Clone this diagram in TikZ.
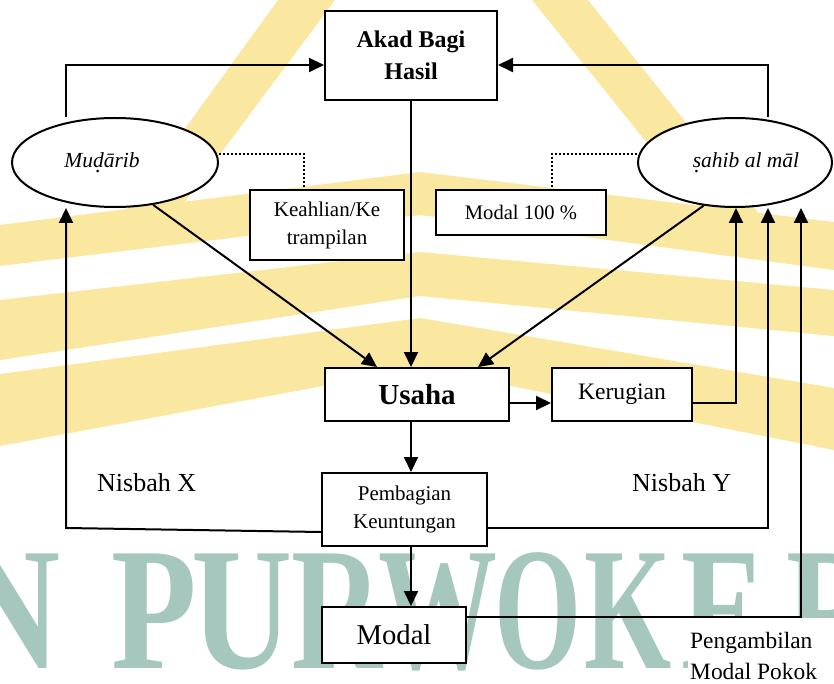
\documentclass[tikz,border=0pt]{standalone}
\usepackage{fontspec}
\setmainfont{Liberation Serif}
\usetikzlibrary{arrows.meta,shapes.geometric}
\definecolor{wmY}{RGB}{250,232,160}
\definecolor{wmT}{RGB}{166,199,190}
\newcommand\dotunder[1]{{\oalign{#1\crcr\hidewidth.\hidewidth}}}
\newcommand\myfs[2]{\fontsize{#1}{#2}\selectfont}
\newcommand\wmchar[2]{\scalebox{#1}[1]{#2}}
\begin{document}
\begin{tikzpicture}[x=1pt,y=-1pt,
  box/.style={draw, line width=2pt, fill=white, inner sep=0pt, align=center},
  oval/.style={ellipse, draw, line width=2pt, fill=white, inner sep=0pt, minimum height=89pt},
  arr/.style={line width=2pt, -{Triangle[length=15pt,width=14pt]}},
  dotline/.style={line width=2pt, dotted},
  lbl/.style={inner sep=0pt, anchor=base west},
  wm/.style={inner sep=0pt, anchor=base, text=wmT, font=\bfseries\myfs{175}{175}},
  band/.style={fill=wmY}]
% canvas
\useasboundingbox (0,0) rectangle (834,684);
\fill[white] (0,0) rectangle (834,684);
% watermark
\begin{scope}
\clip (0,0) rectangle (834,684);
\fill[band] (278,0) -- (335,0) -- (160,235) -- (108,235) -- cycle;
\fill[band] (532,0) -- (588,0) -- (760,215) -- (705,215) -- cycle;
\fill[band] (0,225) -- (420,172) -- (834,222) -- (834,270) -- (420,215) -- (0,266) -- cycle;
\fill[band] (0,300) -- (420,252) -- (834,290) -- (834,336) -- (420,296) -- (0,360) -- cycle;
\fill[band] (0,374) -- (420,318) -- (834,388) -- (834,450) -- (420,368) -- (0,446) -- cycle;
\node[wm] (w1) at (10,668) {\wmchar{0.8}{N}};
\node[wm] (w2) at (154,668) {\wmchar{0.8}{P}};
\node[wm] (w3) at (242,668) {\wmchar{0.8}{U}};
\node[wm] (w4) at (337,668) {\wmchar{0.72}{R}};
\node[wm] (w5) at (438,668) {\wmchar{0.68}{W}};
\node[wm] (w6) at (538,668) {\wmchar{0.64}{O}};
\node[wm] (w7) at (628,668) {\wmchar{0.64}{K}};
\node[wm] (w8) at (724,668) {\wmchar{0.72}{E}};
\node[wm] (w9) at (832,668) {\wmchar{0.72}{R}};
\fill[white] (688,618) rectangle (834,684);
\end{scope}
% nodes
\node[box, minimum width=172pt, minimum height=89pt, font=\bfseries\myfs{24}{32}] (akad) at (411,55.5) {Akad Bagi\\Hasil};
\node[oval, minimum width=206pt, font=\itshape\myfs{21.5}{26}] (mud) at (115,162.5) {Mu\dotunder{d}ārib\hspace*{26pt}};
\node[oval, minimum width=194pt, font=\itshape\myfs{21.5}{26}] (sah) at (735,162.5) {\hspace*{22pt}\dotunder{s}ahib al māl};
\node[box, minimum width=154pt, minimum height=70pt, font=\myfs{21}{28}] (keah) at (327,225) {Keahlian/Ke\\trampilan};
\node[box, minimum width=170pt, minimum height=45pt, font=\myfs{20.6}{25}] (mod100) at (521,212.5) {Modal 100 \%};
\node[box, minimum width=184pt, minimum height=53pt, font=\bfseries\myfs{29}{34}] (usaha) at (417,394.5) {Usaha};
\node[box, minimum width=140pt, minimum height=53pt, font=\myfs{23.6}{28}] (ker) at (622,394.5) {Kerugian};
\node[box, minimum width=165pt, minimum height=73pt, font=\myfs{21}{28}] (pemb) at (404.5,509.5) {Pembagian\\Keuntungan};
\node[box, minimum width=144pt, minimum height=56pt, font=\myfs{28.7}{34}] (modal) at (394,635) {Modal};
\node[lbl, font=\myfs{26}{30}] (nx) at (97,491) {Nisbah X};
\node[lbl, font=\myfs{26}{30}] (ny) at (632,491) {Nisbah Y};
\node[inner sep=0pt, anchor=north west, align=left, font=\myfs{23.4}{31}] (peng) at (690,632) {Pengambilan\\Modal Pokok};
% rails
\coordinate (railL) at (66,528);
\coordinate (railK) at (736,403);
\coordinate (railP) at (768,528);
\coordinate (railM) at (801,617);
\coordinate (topY) at (0,65);
% connectors
\draw[arr] (mud.north -| railL) |- (akad.west |- topY);
\draw[arr] (sah.north -| railP) |- (akad.east |- topY);
\draw[arr] (akad.south) -- (usaha.north -| akad.south);
\draw[arr] (mud.-48) -- ([xshift=53pt]usaha.north west);
\draw[arr] (sah.-126) -- ([xshift=-32pt]usaha.north east);
\draw[arr] (usaha.east |- railK) -- (ker.west |- railK);
\draw[arr] (ker.east |- railK) -- (railK) -- (railK |- sah.south);
\draw[arr] (usaha.south -| akad.south) -- (pemb.north -| akad.south);
\draw[arr] ([yshift=-22.5pt]pemb.west) -- (railL) -- (railL |- mud.south);
\draw[arr] ([yshift=-18.5pt]pemb.east) -- (railP) -- (railP |- sah.south);
\draw[arr] (pemb.south -| akad.south) -- (modal.north -| akad.south);
\draw[arr] (modal.east |- railM) -- (railM) -- (railM |- sah.south);
\draw[dotline] ([yshift=8.5pt]mud.east) -| ([xshift=-23pt]keah.north);
\draw[dotline] ([yshift=8.5pt]sah.west) -| ([xshift=31pt]mod100.north);
\end{tikzpicture}
\end{document}
